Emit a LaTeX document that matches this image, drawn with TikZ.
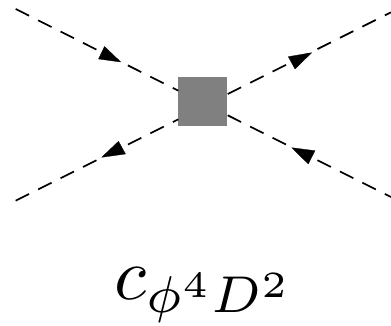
\documentclass[tikz,border=0pt]{standalone}
\tikzset{
 leg/.style={draw=black,line width=1.7pt,dash pattern=on 15pt off 10.1pt},
 tip/.style={fill=black,draw=black,line width=0.3pt,line join=round},
 blob/.style={draw=none,fill=black!50,minimum size=49pt,inner sep=0pt,outer sep=0pt},
}
\begin{document}
\begin{tikzpicture}[x=1pt,y=-1pt]
\useasboundingbox (0,0) rectangle (391,326);
\fill[white] (0,0) rectangle (391,326);
\coordinate (tl) at (15.7,9);
\coordinate (tr) at (391,12.3);
\coordinate (bl) at (15.7,200.7);
\coordinate (br) at (391,197);
\coordinate (c) at (202.5,102);
\node[blob] (b) at (c) {};
\coordinate (itl) at (178.3,90.7);
\coordinate (itr) at (227.7,94);
\coordinate (ibl) at (178.3,119.3);
\coordinate (ibr) at (227.7,115.3);
\draw[leg] (tl) -- (itl);
\draw[leg] (itr) -- (tr);
\draw[leg] (bl) -- (ibl);
\draw[leg] (ibr) -- (br);
\fill[tip] (120.7,62) -- (98.5,59) -- (104.5,46.5) -- cycle;
\fill[tip] (311.7,52.7) -- (288.3,56.7) -- (295,69) -- cycle;
\fill[tip] (101.7,157.3) -- (118.5,141.3) -- (125.5,154) -- cycle;
\fill[tip] (291.7,147.7) -- (315,150.7) -- (308.3,164) -- cycle;
\node[inner sep=0pt,scale=7.4] (lab) at (204.5,295) {$c_{\phi^4 D^2}$};
\end{tikzpicture}
\end{document}
